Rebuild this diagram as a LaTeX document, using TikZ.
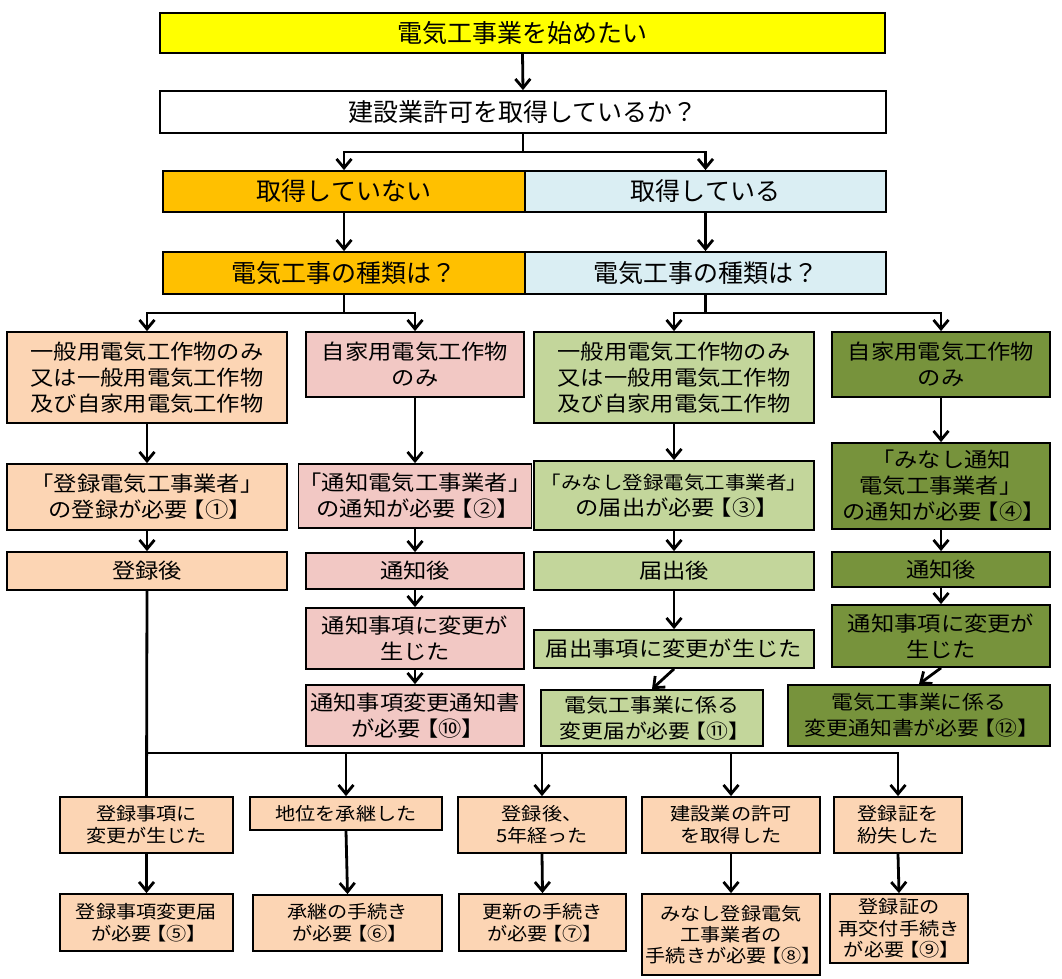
\documentclass[tikz,border=0pt]{standalone}
\usepackage{fontspec}
\newfontfamily\jp{Noto Sans CJK JP}
\newfontfamily\jpw{Noto Sans CJK JP}[FakeStretch=1.12]
\usetikzlibrary{arrows.meta}
\definecolor{cyel}{HTML}{FFFF00}
\definecolor{corg}{HTML}{FFC000}
\definecolor{cblu}{HTML}{DAEEF3}
\definecolor{cpch}{HTML}{FCD5B4}
\definecolor{cpnk}{HTML}{F2C8C4}
\definecolor{clgr}{HTML}{C3D69B}
\definecolor{cdgr}{HTML}{77933C}
\tikzset{
 stdbox/.style={draw=black, line width=1.8pt, inner sep=0pt, align=center, text=black, font=\jpw\fontsize{20.8}{26}\selectfont},
 topbox/.style={stdbox, font=\jp\fontsize{25}{30}\selectfont},
 botbox/.style={stdbox, font=\jpw\fontsize{18}{22}\selectfont},
 conn/.style={line width=2.8pt, draw=black, line cap=rect},
 arr/.style={line width=2.8pt, draw=black, -{Straight Barb[length=9pt,width=15pt]}},
}
\newcommand\bx[7]{\node[#6, minimum width={(#4-#2)*1pt}, minimum height={(#5-#3)*1pt}] (#1) at ({(#2+#4)/2},{(#3+#5)/2}) {#7};}
\newcommand\nb[1]{\kern-0.3em【#1】\kern-0.3em}
\begin{document}
\begin{tikzpicture}[x=1pt,y=-1pt]
\useasboundingbox (0,0) rectangle (1062,979);
% top rows
\bx{t1}{160}{13}{885}{53}{topbox,fill=cyel}{電気工事業を始めたい}
\bx{t2}{160}{91}{886}{133}{topbox,fill=white}{建設業許可を取得しているか？}
\bx{no}{163}{171}{525}{212}{topbox,fill=corg}{取得していない}
\bx{yes}{525}{171}{886}{212}{topbox,fill=cblu}{取得している}
\bx{no2}{163}{252}{525}{294}{topbox,fill=corg}{電気工事の種類は？}
\bx{yes2}{525}{252}{886}{294}{topbox,fill=cblu}{電気工事の種類は？}
% middle: left peach
\bx{L1}{7}{332}{287}{423}{stdbox,fill=cpch}{一般用電気工作物のみ\\又は一般用電気工作物\\及び自家用電気工作物}
\bx{L3}{7}{464}{287}{530}{stdbox,fill=cpch}{「登録電気工事業者」\\の登録が必要\nb{①}}
\bx{L4}{7}{552}{287}{590}{stdbox,fill=cpch}{登録後}
% pink
\bx{L2}{306}{332}{524}{397}{stdbox,fill=cpnk}{自家用電気工作物\\のみ}
\bx{P3}{306}{464}{524}{528}{stdbox,fill=cpnk}{「通知電気工事業者」\\の通知が必要\nb{②}}
\bx{P4}{306}{553}{524}{589}{stdbox,fill=cpnk}{通知後}
\bx{P5}{306}{608}{524}{669}{stdbox,fill=cpnk}{通知事項に変更が\\生じた}
\bx{P6}{306}{685}{524}{746}{stdbox,fill=cpnk}{通知事項変更通知書\\が必要\nb{⑩}}
% light green
\bx{G1}{534}{332}{814}{423}{stdbox,fill=clgr}{一般用電気工作物のみ\\又は一般用電気工作物\\及び自家用電気工作物}
\bx{G2}{534}{461}{814}{530}{stdbox,fill=clgr}{{\fontsize{18.3}{26}\selectfont「みなし登録電気工事業者」}\\の届出が必要\nb{③}}
\bx{G3}{534}{552}{814}{590}{stdbox,fill=clgr}{届出後}
\bx{G4}{534}{630}{814}{668}{stdbox,fill=clgr}{届出事項に変更が生じた}
\bx{G5}{541}{690}{763}{746}{stdbox,fill=clgr,font=\jpw\fontsize{19.5}{26}\selectfont}{電気工事業に係る\\変更届が必要\nb{⑪}}
% dark green
\bx{D1}{832}{332}{1050}{397}{stdbox,fill=cdgr}{自家用電気工作物\\のみ}
\bx{D2}{832}{443}{1050}{529}{stdbox,fill=cdgr}{「みなし通知\\電気工事業者」\\の通知が必要\nb{④}}
\bx{D3}{832}{552}{1050}{587}{stdbox,fill=cdgr}{通知後}
\bx{D4}{832}{605}{1050}{667}{stdbox,fill=cdgr}{通知事項に変更が\\生じた}
\bx{D5}{788}{685}{1050}{746}{stdbox,fill=cdgr,font=\jpw\fontsize{19.5}{26}\selectfont}{電気工事業に係る\\変更通知書が必要\nb{⑫}}
% bottom
\bx{B1}{60}{797}{233}{853}{botbox,fill=cpch}{登録事項に\\変更が生じた}
\bx{B1b}{60}{894}{233}{951}{botbox,fill=cpch}{登録事項変更届\\が必要\nb{⑤}}
\bx{B2}{250}{797}{442}{830}{botbox,fill=cpch}{地位を承継した}
\bx{B2b}{253}{895}{442}{951}{botbox,fill=cpch}{承継の手続き\\が必要\nb{⑥}}
\bx{B3}{458}{797}{626}{853}{botbox,fill=cpch}{登録後、\\5年経った}
\bx{B3b}{459}{894}{626}{951}{botbox,fill=cpch}{更新の手続き\\が必要\nb{⑦}}
\bx{B4}{642}{797}{820}{853}{botbox,fill=cpch}{建設業の許可\\を取得した}
\bx{B4b}{642}{894}{820}{975}{botbox,fill=cpch,font=\jpw\fontsize{18}{21}\selectfont}{みなし登録電気\\工事業者の\\手続きが必要\nb{⑧}}
\bx{B5}{834}{797}{962}{853}{botbox,fill=cpch}{登録証を\\紛失した}
\bx{B5b}{830}{894}{968}{963}{botbox,fill=cpch,font=\jpw\fontsize{18}{21.5}\selectfont}{登録証の\\再交付手続き\\が必要\nb{⑨}}
% reference rows
\coordinate (y152) at (0,152);
\coordinate (y313) at (0,313);
\coordinate (y753) at (0,753);
% connectors top
\draw[arr] (t1.south) -- (t2.north);
\draw[arr] (t2.south) -- (t2.south |- y152) -| (no.north);
\draw[arr] (t2.south |- y152) -| (yes.north);
\draw[arr] (no.south) -- (no2.north);
\draw[arr] (yes.south) -- (yes2.north);
\draw[arr] (no2.south) -- (no2.south |- y313) -| (L1.north);
\draw[arr] (no2.south |- y313) -| (L2.north);
\draw[arr] (yes2.south) -- (yes2.south |- y313) -| (G1.north);
\draw[arr] (yes2.south |- y313) -| (D1.north);
% chains
\draw[arr] (L1.south) -- (L3.north);
\draw[arr] (L3.south) -- (L4.north);
\draw[arr] (L2.south) -- (P3.north);
\draw[arr] (P3.south) -- (P4.north);
\draw[arr] (P4.south) -- (P5.north);
\draw[arr] (P5.south) -- (P6.north);
\draw[arr] (G1.south) -- (G2.north);
\draw[arr] (G2.south) -- (G3.north);
\draw[arr] (G3.south) -- (G4.north);
\draw[arr] (G4.south) -- (G5.north);
\draw[arr] (D1.south) -- (D2.north);
\draw[arr] (D2.south) -- (D3.north);
\draw[arr] (D3.south) -- (D4.north);
\draw[arr] (D4.south) -- (D5.north);
% bottom distribution
\draw[conn] (L4.south) -- (B1.north);
\draw[conn] (L4.south |- y753) -- (B5.north |- y753);
\draw[arr] (B2.north |- y753) -- (B2.north);
\draw[arr] (B3.north |- y753) -- (B3.north);
\draw[arr] (B4.north |- y753) -- (B4.north);
\draw[arr] (B5.north |- y753) -- (B5.north);
\draw[arr] (B1.south) -- (B1b.north);
\draw[arr] (B2.south) -- (B2b.north);
\draw[arr] (B3.south) -- (B3b.north);
\draw[arr] (B4.south) -- (B4b.north);
\draw[arr] (B5.south) -- (B5b.north);
\end{tikzpicture}
\end{document}
